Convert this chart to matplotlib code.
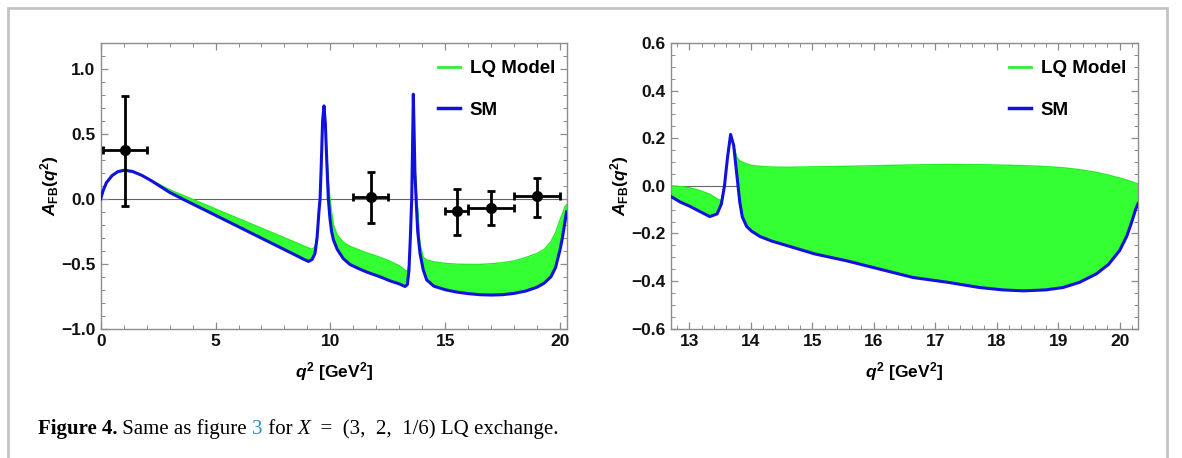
import numpy as np
import matplotlib
matplotlib.use("Agg")
import matplotlib.pyplot as plt
from matplotlib.lines import Line2D
from matplotlib.patches import Rectangle
from matplotlib.ticker import MultipleLocator

plt.rcParams['font.family'] = ['Liberation Sans', 'DejaVu Sans']
plt.rcParams['mathtext.fontset'] = 'custom'
plt.rcParams['mathtext.rm'] = 'Liberation Sans:bold'
plt.rcParams['mathtext.it'] = 'Liberation Sans:italic:bold'
plt.rcParams['mathtext.bf'] = 'Liberation Sans:bold'

# ---- left panel: full q^2 range ----
q_left = [0.0, 0.1, 0.25, 0.5, 0.75, 1.05, 1.4, 1.8, 2.2, 2.6, 3.0, 3.55, 3.95,
          4.5, 5.0, 5.5, 6.0, 6.5, 7.0, 7.5, 8.0, 8.5, 8.8, 9.04, 9.2, 9.33,
          9.42, 9.5, 9.55, 9.6, 9.66, 9.72, 9.78, 9.84, 9.91, 9.98, 10.05,
          10.13, 10.3, 10.56, 10.85, 11.2, 11.6, 12.0, 12.3, 12.6, 13.0, 13.25,
          13.35, 13.42, 13.48, 13.54, 13.58, 13.61, 13.64, 13.68, 13.73, 13.8,
          13.9, 14.04, 14.19, 14.5, 15.0, 15.5, 16.0, 16.5, 17.0, 17.5, 18.0,
          18.5, 19.0, 19.3, 19.6, 19.8, 20.0, 20.1, 20.2, 20.28]
sm_left = [0.0, 0.06, 0.125, 0.18, 0.21, 0.221, 0.21, 0.18, 0.14, 0.095, 0.05,
           0.0, -0.035, -0.083, -0.127, -0.171, -0.215, -0.259, -0.303, -0.347,
           -0.391, -0.435, -0.462, -0.482, -0.468, -0.42, -0.30, -0.10, 0.0,
           0.25, 0.60, 0.716, 0.58, 0.30, 0.0, -0.15, -0.25, -0.315, -0.39,
           -0.46, -0.505, -0.535, -0.565, -0.59, -0.61, -0.632, -0.655, -0.675,
           -0.66, -0.55, -0.30, 0.0, 0.45, 0.806, 0.55, 0.20, 0.0, -0.25, -0.42,
           -0.546, -0.624, -0.672, -0.70, -0.718, -0.73, -0.738, -0.741, -0.738,
           -0.728, -0.71, -0.68, -0.65, -0.60, -0.53, -0.39, -0.30, -0.19, -0.10]
lq_left = [0.0, 0.06, 0.123, 0.177, 0.205, 0.215, 0.205, 0.18, 0.145, 0.107,
           0.07, 0.03, 0.0, -0.041, -0.078, -0.115, -0.152, -0.189, -0.226,
           -0.263, -0.30, -0.337, -0.36, -0.378, -0.388, -0.37, -0.27, -0.08,
           0.02, 0.27, 0.61, 0.716, 0.60, 0.36, 0.14, 0.0, -0.10, -0.20, -0.28,
           -0.335, -0.365, -0.39, -0.417, -0.44, -0.46, -0.482, -0.515, -0.55,
           -0.56, -0.50, -0.28, 0.02, 0.46, 0.806, 0.58, 0.26, 0.10, -0.08,
           -0.35, -0.45, -0.47, -0.485, -0.497, -0.503, -0.505, -0.505, -0.50,
           -0.492, -0.478, -0.452, -0.42, -0.39, -0.33, -0.26, -0.16, -0.115,
           -0.065, -0.045]

# LHCb bins
exp_q = [1.05, 11.75, 15.5, 17.0, 19.0]
exp_lo = [0.1, 11.0, 15.0, 16.0, 18.0]
exp_hi = [2.0, 12.5, 16.0, 18.0, 20.0]
exp_afb = [0.375, 0.012, -0.095, -0.07, 0.02]
exp_up = [0.42, 0.197, 0.17, 0.134, 0.142]
exp_dn = [0.43, 0.198, 0.18, 0.131, 0.162]

# ---- right panel: high q^2 ----
q_right = [12.7, 12.85, 13.0, 13.15, 13.33, 13.45, 13.52, 13.57, 13.62, 13.67,
           13.72, 13.77, 13.82, 13.86, 13.93, 14.01, 14.15, 14.34, 14.6, 15.04,
           15.56, 16.1, 16.64, 17.2, 17.72, 18.1, 18.43, 18.8, 19.08, 19.35,
           19.62, 19.82, 20.0, 20.12, 20.2, 20.26, 20.3]
sm_right = [-0.045, -0.068, -0.085, -0.105, -0.129, -0.118, -0.076, 0.0, 0.12,
            0.216, 0.17, 0.05, -0.07, -0.13, -0.17, -0.19, -0.213, -0.232,
            -0.252, -0.286, -0.315, -0.35, -0.385, -0.405, -0.427, -0.437,
            -0.441, -0.437, -0.427, -0.405, -0.37, -0.33, -0.272, -0.21, -0.15,
            -0.10, -0.075]
lq_right = [0.0, -0.003, -0.008, -0.018, -0.035, -0.055, -0.062, 0.0, 0.12,
            0.216, 0.17, 0.12, 0.105, 0.10, 0.092, 0.086, 0.082, 0.079, 0.078,
            0.08, 0.082, 0.085, 0.088, 0.09, 0.089, 0.087, 0.085, 0.081, 0.076,
            0.068, 0.057, 0.045, 0.033, 0.024, 0.017, 0.011, 0.008]

green_fill = '#33ff33'
green_line = '#22ee22'
blue = '#1111dd'
spine_col = '#8c8c8c'

fig = plt.figure(figsize=(11.82, 4.58), dpi=100)

# outer frame of the figure box
fig.patches.append(Rectangle((8 / 1182, -0.05), 1159 / 1182, 1 - 8 / 458 + 0.05,
                             transform=fig.transFigure, fill=False,
                             edgecolor='#c4c4c4', lw=2))

ax1 = fig.add_axes([100.7 / 1182, 1 - 328.7 / 458, 466.3 / 1182, 285.7 / 458])
ax2 = fig.add_axes([671 / 1182, 1 - 328.7 / 458, 467 / 1182, 285.7 / 458])


def style(ax):
    for s in ax.spines.values():
        s.set_color(spine_col)
        s.set_linewidth(1.0)
    ax.tick_params(which='both', direction='in', top=True, right=True,
                   color=spine_col, labelsize=12.5, labelcolor='#111111')
    ax.tick_params(which='major', length=5, width=0.9, pad=4)
    ax.tick_params(which='minor', length=2.8, width=0.7)
    for lab in ax.get_xticklabels() + ax.get_yticklabels():
        lab.set_fontweight('bold')
    ax.axhline(0, color='#666666', lw=0.8, zorder=1)
    ax.set_xlabel(r'$q^2$ [GeV$^2$]', fontsize=12.5, fontweight='bold', labelpad=8)
    ax.set_ylabel(r'$A_{\mathrm{FB}}(q^2)$', fontsize=12.5, fontweight='bold', labelpad=0)
    handles = [Line2D([], [], color='#33ee33', lw=2),
               Line2D([], [], color=blue, lw=2.5)]
    ax.legend(handles, ['LQ Model', 'SM'], loc='upper right', frameon=False,
              handlelength=1.15, handletextpad=0.55, labelspacing=1.3,
              prop={'weight': 'bold', 'size': 13.5}, borderpad=0,
              borderaxespad=0, bbox_to_anchor=(0.975, 0.94))


ax1.fill_between(q_left, sm_left, lq_left, color=green_fill, lw=0, zorder=2)
ax1.plot(q_left, lq_left, color=green_line, lw=1, zorder=2)
ax1.plot(q_left, sm_left, color=blue, lw=2.2, zorder=3)
xerr = [np.array(exp_q) - np.array(exp_lo), np.array(exp_hi) - np.array(exp_q)]
ax1.errorbar(exp_q, exp_afb, xerr=xerr, yerr=[exp_dn, exp_up], fmt='o',
             color='black', ms=7, elinewidth=2, capsize=3, capthick=2,
             zorder=4)
ax1.set_xlim(0, 20.3)
ax1.set_ylim(-1.0, 1.2)
ax1.xaxis.set_major_locator(MultipleLocator(5))
ax1.xaxis.set_minor_locator(MultipleLocator(1))
ax1.yaxis.set_minor_locator(MultipleLocator(0.1))
ax1.set_yticks([-1.0, -0.5, 0.0, 0.5, 1.0])
ax1.set_yticklabels(['\u22121.0', '\u22120.5', '0.0', '0.5', '1.0'])
style(ax1)

ax2.fill_between(q_right, sm_right, lq_right, color=green_fill, lw=0, zorder=2)
ax2.plot(q_right, lq_right, color=green_line, lw=1, zorder=2)
ax2.plot(q_right, sm_right, color=blue, lw=2.2, zorder=3)
ax2.set_xlim(12.7, 20.3)
ax2.set_ylim(-0.6, 0.6)
ax2.xaxis.set_major_locator(MultipleLocator(1))
ax2.xaxis.set_minor_locator(MultipleLocator(0.2))
ax2.yaxis.set_minor_locator(MultipleLocator(0.05))
ax2.set_yticks([-0.6, -0.4, -0.2, 0.0, 0.2, 0.4, 0.6])
ax2.set_yticklabels(['\u22120.6', '\u22120.4', '\u22120.2', '0.0', '0.2', '0.4', '0.6'])
style(ax2)

# caption, built piece by piece
fig.canvas.draw()
rend = fig.canvas.get_renderer()
pieces = [("Figure 4.", dict(weight='bold')),
          (" Same as figure ", {}),
          ("3", dict(color='#2a8fc4')),
          (" for ", {}),
          ("X", dict(style='italic')),
          ("  =  (3,  2,  1/6) LQ exchange.", {})]
x = 38 / 1182
y = 1 - 434 / 458
for txt, kw in pieces:
    t = fig.text(x, y, txt, fontsize=15, family=['Liberation Serif', 'DejaVu Serif'],
                 ha='left', va='baseline', **kw)
    bb = t.get_window_extent(rend)
    x += bb.width / fig.bbox.width

fig.savefig('out.png', dpi=100)
